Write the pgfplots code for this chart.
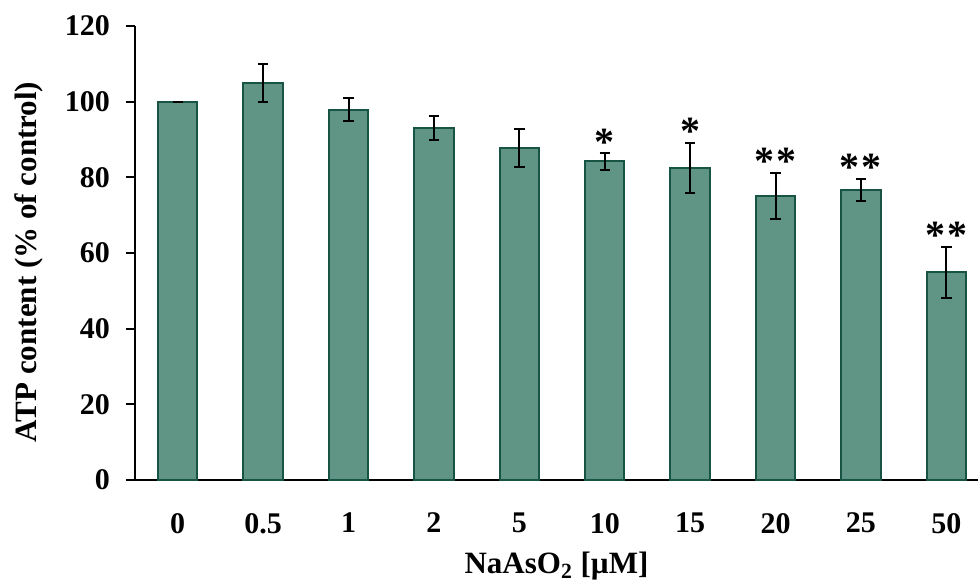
\documentclass[border=0pt]{standalone}
\usepackage{fontspec}
\setmainfont{Liberation Serif}
\usepackage{pgfplots}
\pgfplotsset{compat=1.18}
\definecolor{barfill}{RGB}{96,149,134}
\definecolor{baredge}{RGB}{24,84,68}
\begin{document}
\begin{tikzpicture}
\useasboundingbox (-67.5pt,-51.5pt) rectangle (421.5pt,240pt);
\begin{axis}[
  at={(0,0)}, anchor=south west,
  scale only axis,
  width=421.5pt, height=227pt,
  xmin=-0.5, xmax=9.37,
  ymin=0, ymax=120,
  ytick={0,20,40,60,80,100,120},
  xtick={0,1,2,3,4,5,6,7,8,9},
  xticklabels={0,0.5,1,2,5,10,15,20,25,50},
  axis lines=left,
  axis line style={line width=1pt, black, -},
  tick align=outside,
  major tick length=4.5pt,
  xtick style={draw=none},
  ytick style={line width=1pt, black},
  /pgf/number format/assume math mode=true,
  ticklabel style={font=\fontsize{15}{17}\selectfont\bfseries},
  yticklabel style={xshift=-4.5pt},
  xticklabel style={yshift=-8.5pt},
  xlabel={NaAsO\textsubscript{2} [µM]},
  ylabel={ATP content (\% of control)},
  label style={font=\fontsize{15.5}{18}\selectfont\bfseries},
  xlabel style={yshift=-2.5pt},
  ylabel style={yshift=4pt, xshift=-4.5pt},
  clip=false,
]
\addplot[ybar, bar width=19.7pt, fill=barfill, draw=baredge, line width=1pt,
  error bars/.cd, y dir=both, y explicit,
  error bar style={line width=1pt, black},
  error mark options={line width=1pt, black, mark size=2.6pt, rotate=90}]
coordinates {
  (0,100) +- (0,0)
  (1,104.9) +- (0,5.0)
  (2,97.9) +- (0,3.0)
  (3,93.0) +- (0,3.2)
  (4,87.8) +- (0,5.0)
  (5,84.2) +- (0,2.2)
  (6,82.5) +- (0,6.7)
  (7,75.1) +- (0,6.1)
  (8,76.7) +- (0,2.9)
  (9,54.9) +- (0,6.7)
};
\addplot[draw=none, mark=none, nodes near coords, point meta=explicit symbolic,
  nodes near coords style={anchor=base, inner sep=0pt, yshift=-1pt, font=\fontsize{20}{22}\selectfont\bfseries}]
coordinates {
  (5,86.4) [*]
  (6,89.2) [*]
  (7,81.2) [{*\hspace{1pt}*}]
  (8,79.6) [{*\hspace{1pt}*}]
  (9,61.6) [{*\hspace{1pt}*}]
};
\end{axis}
\end{tikzpicture}
\end{document}
